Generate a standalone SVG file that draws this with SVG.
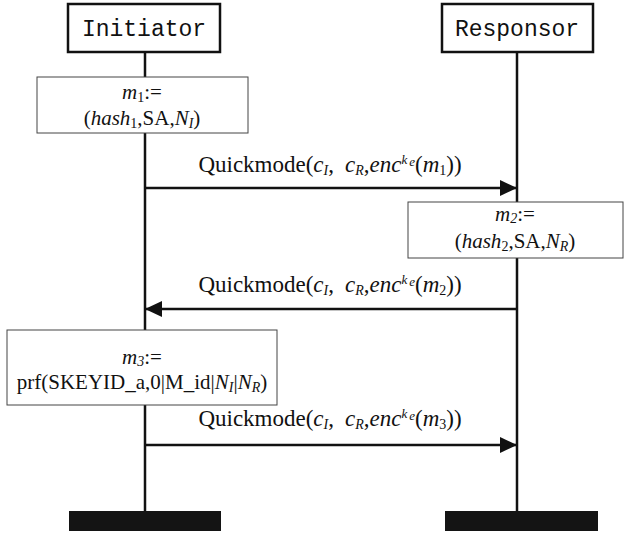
<svg xmlns="http://www.w3.org/2000/svg" width="626" height="534" viewBox="0 0 626 534">
<style>
.actor{fill:#fff;stroke:#111;stroke-width:2.5}
.aname{font-family:"Liberation Mono","DejaVu Sans Mono",monospace;font-size:23px;fill:#111;text-anchor:middle}
.life{stroke:#111;stroke-width:2.5}
.note{fill:#fff;stroke:#444;stroke-width:1}
.t{font-family:"Liberation Serif","Times New Roman",serif;font-size:21px;fill:#111;text-anchor:middle}
.q{font-size:23px}
.msg{stroke:#111;stroke-width:2.5;fill:none}
.bar{fill:#141414}
.i{font-style:italic}
.s{font-size:14px}
.k{font-size:13px;font-style:italic}
</style>
<defs>
<marker id="ah" viewBox="0 0 17 16" refX="17" refY="8" markerWidth="17" markerHeight="16" markerUnits="userSpaceOnUse" orient="auto">
<path d="M0,0 L17,8 L0,16 Z" fill="#111"/>
</marker>
</defs>
<g id="lifelines">
<line class="life" x1="145" y1="52" x2="145" y2="511"/>
<line class="life" x1="517" y1="52" x2="517" y2="511"/>
</g>
<g id="initiator">
<rect class="actor" x="68" y="4" width="152" height="48"/>
<text class="aname" x="144" y="36">Initiator</text>
<rect class="bar" x="69" y="511" width="152" height="20"/>
</g>
<g id="responsor">
<rect class="actor" x="442" y="4" width="151" height="48"/>
<text class="aname" x="517" y="36">Responsor</text>
<rect class="bar" x="445" y="511" width="153" height="20"/>
</g>
<g id="m1">
<rect class="note" x="37" y="77" width="211" height="56"/>
<text class="t" x="142" y="99"><tspan class="i">m</tspan><tspan class="s" dy="3">1</tspan><tspan dy="-3">:=</tspan></text>
<text class="t" x="142" y="125">(<tspan class="i">hash</tspan><tspan class="s" dy="3">1</tspan><tspan dy="-3">,SA,</tspan><tspan class="i">N</tspan><tspan class="i s" dy="3">I</tspan><tspan dy="-3">)</tspan></text>
</g>
<g id="m2">
<rect class="note" x="408" y="202" width="215" height="56"/>
<text class="t" x="515" y="221"><tspan class="i">m</tspan><tspan class="i s" dy="2">2</tspan><tspan dy="-2">:=</tspan></text>
<text class="t" x="515" y="248">(<tspan class="i">hash</tspan><tspan class="s" dy="3">2</tspan><tspan dy="-3">,SA,</tspan><tspan class="i">N</tspan><tspan class="i s" dy="3">R</tspan><tspan dy="-3">)</tspan></text>
</g>
<g id="m3">
<rect class="note" x="7" y="330" width="270" height="75"/>
<text class="t" x="142" y="364"><tspan class="i">m</tspan><tspan class="i s" dy="2">3</tspan><tspan dy="-2">:=</tspan></text>
<text class="t" x="142" y="389">prf(SKEYID_a,0|M_id|<tspan class="i">N</tspan><tspan class="i s" dy="3">I</tspan><tspan dy="-3">|</tspan><tspan class="i">N</tspan><tspan class="i s" dy="3">R</tspan><tspan dy="-3">)</tspan></text>
</g>
<g id="connectors">
<line class="msg" x1="145" y1="188" x2="517" y2="188" marker-end="url(#ah)"/>
<text class="t q" x="330" y="172">Quickmode(<tspan class="i">c</tspan><tspan class="i s" dy="3">I</tspan><tspan dy="-3">,</tspan><tspan class="i" dx="11">c</tspan><tspan class="i s" dy="3">R</tspan><tspan dy="-3">,</tspan><tspan class="i">enc</tspan><tspan class="k" dy="-8">k</tspan><tspan class="k" font-size="11" dx="2" dy="2">e</tspan><tspan dy="6">(</tspan><tspan class="i">m</tspan><tspan class="s" dy="3">1</tspan><tspan dy="-3">))</tspan></text>
<line class="msg" x1="517" y1="309" x2="145" y2="309" marker-end="url(#ah)"/>
<text class="t q" x="330" y="292">Quickmode(<tspan class="i">c</tspan><tspan class="i s" dy="3">I</tspan><tspan dy="-3">,</tspan><tspan class="i" dx="11">c</tspan><tspan class="i s" dy="3">R</tspan><tspan dy="-3">,</tspan><tspan class="i">enc</tspan><tspan class="k" dy="-8">k</tspan><tspan class="k" font-size="11" dx="2" dy="2">e</tspan><tspan dy="6">(</tspan><tspan class="i">m</tspan><tspan class="s" dy="3">2</tspan><tspan dy="-3">))</tspan></text>
<line class="msg" x1="145" y1="445" x2="517" y2="445" marker-end="url(#ah)"/>
<text class="t q" x="330" y="426">Quickmode(<tspan class="i">c</tspan><tspan class="i s" dy="3">I</tspan><tspan dy="-3">,</tspan><tspan class="i" dx="11">c</tspan><tspan class="i s" dy="3">R</tspan><tspan dy="-3">,</tspan><tspan class="i">enc</tspan><tspan class="k" dy="-8">k</tspan><tspan class="k" font-size="11" dx="2" dy="2">e</tspan><tspan dy="6">(</tspan><tspan class="i">m</tspan><tspan class="s" dy="3">3</tspan><tspan dy="-3">))</tspan></text>
</g>
</svg>
